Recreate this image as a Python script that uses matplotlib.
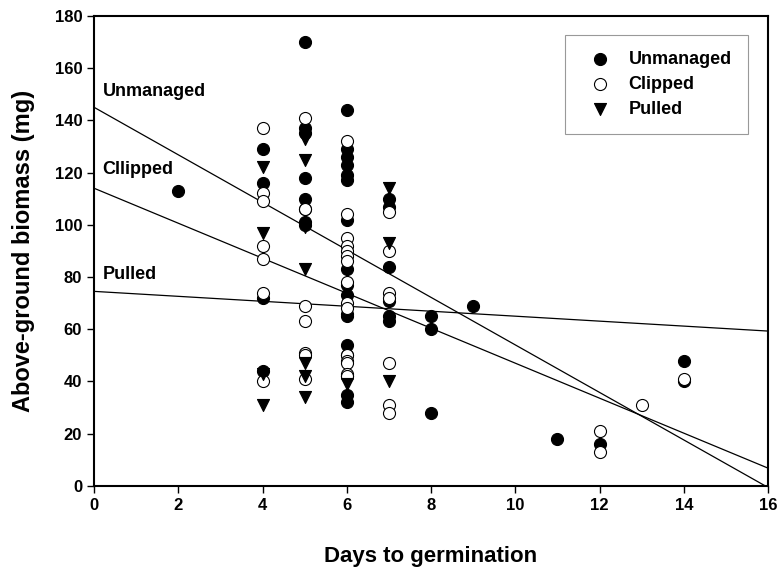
import numpy as np
import matplotlib.pyplot as plt

plt.rcParams['font.family'] = ['Liberation Sans', 'DejaVu Sans']
plt.rcParams['font.weight'] = 'bold'

# days to germination / biomass (mg)
unm_x = [2, 4, 4, 4, 4, 5, 5, 5, 5, 5, 5, 5, 5, 6, 6, 6, 6, 6, 6, 6, 6, 6, 6, 6,
         6, 6, 6, 6, 6, 6, 7, 7, 7, 7, 7, 7, 8, 8, 8, 9, 11, 12, 14, 14]
unm_y = [113, 129, 116, 72, 44, 170, 137, 135, 118, 110, 106, 101, 100, 144, 129, 126, 123, 119, 117,
         102, 83, 77, 73, 66, 65, 54, 35, 32, 42, 50, 110, 107, 84, 71, 65, 63, 65, 60, 28, 69, 18, 16, 48, 40]
clp_x = [4, 4, 4, 4, 4, 4, 4, 5, 5, 5, 5, 5, 5, 5, 6, 6, 6, 6, 6, 6, 6, 6, 6, 6, 6,
         6, 6, 6, 6, 7, 7, 7, 7, 7, 7, 7, 12, 12, 13, 14]
clp_y = [137, 112, 109, 92, 87, 74, 40, 141, 106, 69, 63, 51, 50, 41, 132, 104, 95, 92, 90, 88, 86,
         78, 70, 68, 50, 48, 47, 43, 42, 105, 90, 74, 72, 47, 31, 28, 21, 13, 31, 41]
pul_x = [4, 4, 4, 4, 5, 5, 5, 5, 5, 5, 5, 6, 6, 7, 7, 7]
pul_y = [122, 97, 43, 31, 133, 125, 99, 83, 47, 42, 34, 39, 33, 114, 93, 40]

# fitted lines: intercept, slope
fits = {'Unmanaged': (145.0, -9.1), 'Cllipped': (114.0, -6.7), 'Pulled': (74.5, -0.95)}
fit_labels = [('Unmanaged', 151), ('Cllipped', 121), ('Pulled', 81)]

fig = plt.figure(figsize=(7.79, 5.67), dpi=100)
ax = fig.add_axes([0.1207, 0.143, 0.8653, 0.829])

ax.scatter(unm_x, unm_y, s=75, c='black', edgecolors='black', linewidths=0.8, label='Unmanaged', zorder=3)
ax.scatter(clp_x, clp_y, s=75, c='white', edgecolors='black', linewidths=0.8, label='Clipped', zorder=3)
ax.scatter(pul_x, pul_y, s=75, c='black', marker='v', linewidths=0.8, label='Pulled', zorder=3)

xx = np.array([0, 16])
for name, (b, m) in fits.items():
    ax.plot(xx, b + m * xx, color='black', lw=0.9, zorder=2)
for name, yl in fit_labels:
    ax.text(0.2, yl, name, fontsize=13, fontweight='bold', va='center')

ax.set_xlim(0, 16)
ax.set_ylim(0, 180)
ax.set_xticks(range(0, 17, 2))
ax.set_yticks(range(0, 181, 20))
ax.tick_params(direction='out', length=5, width=1, labelsize=12)
for s in ax.spines.values():
    s.set_linewidth(1.5)
ax.set_xlabel('Days to germination', fontsize=16, fontweight='bold', labelpad=24)
ax.set_ylabel('Above-ground biomass (mg)', fontsize=17, fontweight='bold', labelpad=14)

leg = ax.legend(loc='upper right', bbox_to_anchor=(0.97, 0.96), borderaxespad=0,
                frameon=True, fancybox=False, edgecolor='0.5', handletextpad=0.6,
                borderpad=0.9, labelspacing=0.45, prop={'weight': 'bold', 'size': 13})
leg.get_frame().set_linewidth(0.8)

fig.savefig('out.png', dpi=100)
